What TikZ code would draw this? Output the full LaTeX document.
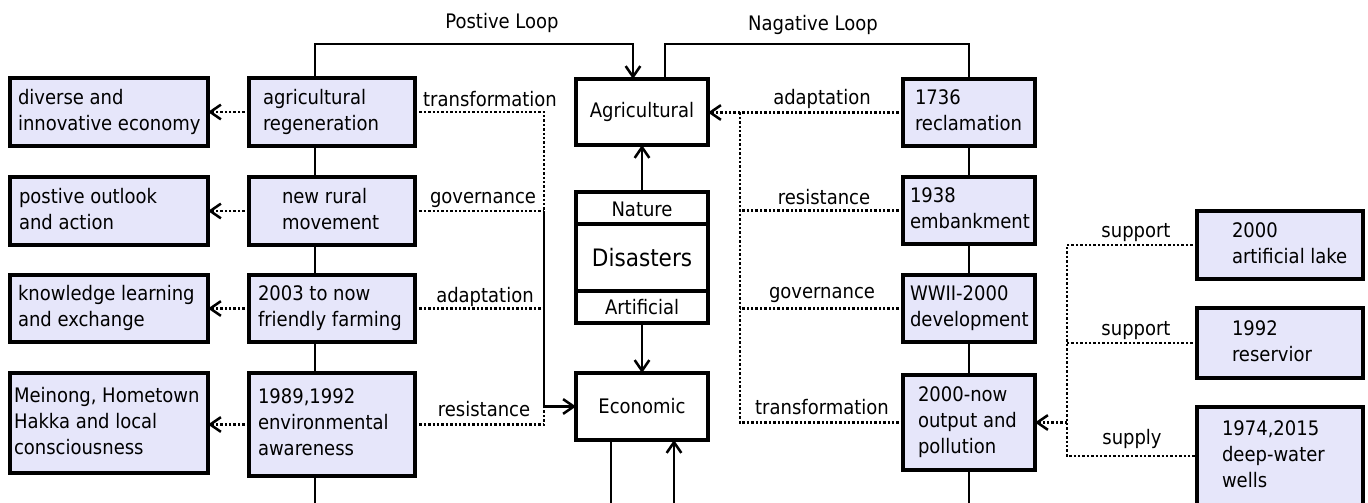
\documentclass[tikz,border=0pt]{standalone}
\usepackage{fontspec}
\setmainfont{DejaVu Sans Condensed}
\usetikzlibrary{arrows.meta,calc}
\definecolor{lav}{HTML}{E6E6FA}
\newlength\pxu
\setlength\pxu{0.75pt}
% box text: total width #1, left padding #2, lines #3 (all in px)
\newcommand\bxt[3]{\makebox[#1\pxu][l]{\hspace*{#2\pxu}\begin{tabular}{@{}l@{}}#3\end{tabular}}}
\tikzset{
  every node/.style={font=\fontsize{15}{19.5}\selectfont, inner sep=0pt, outer sep=0pt},
  evbox/.style={draw, line width=2.6pt, fill=lav, minimum height=#1\pxu},
  cbox/.style={draw, line width=2.6pt, fill=white, minimum width=132\pxu, minimum height=#1\pxu},
  link/.style={line width=1.9pt},
  dotlink/.style={line width=1.9pt, dash pattern=on 1.8pt off 1.5pt},
  tip/.style={-{Straight Barb[length=8pt,width=11pt,line width=1.9pt]}},
  lbl/.style={font=\fontsize{15}{19.5}\selectfont},
}
\begin{document}
\begin{tikzpicture}[x=0.75pt, y=-0.75pt]
\useasboundingbox (0,0) rectangle (1368,503);
\clip (0,0) rectangle (1368,503);

% junction coordinates
\coordinate (xL) at (315,0);
\coordinate (loopL) at (315,44);
\coordinate (loopR) at (969,44);
\coordinate (jl) at (544,0);
\coordinate (jr) at (740,0);
\coordinate (js) at (1067,0);
\coordinate (bot) at (0,503);

% left chain of events
\draw[link] (loopL) -- (315,503);
% right chain of events
\draw[link] (loopR) -- (969,503);

% outcome boxes
\node[evbox=68] (B1) at (109,112) {\bxt{198}{8}{diverse and\\innovative economy}};
\node[evbox=68] (B2) at (109,211) {\bxt{198}{9}{postive outlook\\and action}};
\node[evbox=67] (B3) at (109,308.5) {\bxt{198}{8}{knowledge learning\\and exchange}};
\node[evbox=100] (B4) at (109,423) {\bxt{198}{4}{Meinong, Hometown\\Hakka and local\\consciousness}};

% left events
\node[evbox=68] (L1) at (332,112) {\bxt{166}{14}{agricultural\\regeneration}};
\node[evbox=68] (L2) at (332,211) {\bxt{166}{33}{new rural\\movement}};
\node[evbox=67] (L3) at (332,308.5) {\bxt{166}{9}{2003 to now\\friendly farming}};
\node[evbox=103] (L4) at (332,424.5) {\bxt{166}{9}{1989,1992\\environmental\\awareness}};

% right events
\node[evbox=67] (R1) at (969,112.5) {\bxt{132}{12}{1736\\reclamation}};
\node[evbox=67] (R2) at (969,210.5) {\bxt{132}{7}{1938\\embankment}};
\node[evbox=67] (R3) at (969,308.5) {\bxt{132}{7}{WWII-2000\\development}};
\node[evbox=95] (R4) at (969,422.5) {\bxt{132}{15}{2000-now\\output and\\pollution}};

% water supply
\node[evbox=68] (S1) at (1280,245) {\bxt{166}{35}{2000\\artificial lake}};
\node[evbox=70] (S2) at (1280,343) {\bxt{166}{35}{1992\\reservior}};
\node[evbox=98] (S3) at (1280,456) {\bxt{166}{25}{1974,2015\\deep-water\\wells}};

% centre
\node[cbox=66] (Agri) at (642,112) {Agricultural};
\node[cbox=67] (Econ) at (642,406.5) {Economic};
\node[cbox=131] (Dis) at (642,257.5) {\fontsize{18}{22}\selectfont Disasters};
\draw[line width=2.6pt] (Dis.west |- 0,224) -- (Dis.east |- 0,224);
\draw[line width=2.6pt] (Dis.west |- 0,291) -- (Dis.east |- 0,291);
\node (nat) at (642,209) {Nature};
\node (art) at (642,307.5) {Artificial};

\draw[link,tip] (Dis.north) -- (Agri.south);
\draw[link,tip] (Dis.south) -- (Econ.north);
\draw[link] ($(Econ.south)+(-31,0)$) -- ($(Econ.south |- bot)+(-31,0)$);
\draw[link,tip] ($(Econ.south |- bot)+(32,0)$) -- ($(Econ.south)+(32,0)$);

% loops
\draw[link,tip] (L1.north -| xL) -- (loopL) -| ($(Agri.north)+(-9,0)$);
\draw[link] ($(Agri.north)+(23,0)$) |- (loopR) -- (R1.north);
\node[lbl] (pos) at (502,23) {Postive Loop};
\node[lbl] (neg) at (813,25) {Nagative Loop};

% left chain links
\foreach \a/\b in {L1/L2,L2/L3,L3/L4}
  \draw[link] (\a.south -| xL) -- (\b.north -| xL);
\draw[link] (L4.south -| xL) -- (xL |- bot);
\foreach \a/\b in {R1/R2,R2/R3,R3/R4}
  \draw[link] (\a.south) -- (\b.north);
\draw[link] (R4.south) -- (R4.south |- bot);

% outcomes
\foreach \a/\b in {L1/B1,L2/B2,L3/B3}
  \draw[dotlink,tip] (\a.west) -- (\b.east);
\draw[dotlink,tip] (L4.west) -- (B4.east |- L4.west);

% left strategies into the economy
\draw[dotlink] (L1.east) -- (L1.east -| jl) -- (jl |- L2.east);
\draw[dotlink] (L2.east) -- (L2.east -| jl);
\draw[dotlink] (L3.east) -- (L3.east -| jl);
\draw[link,tip] (L2.east -| jl) -- (Econ.west -| jl) -- (Econ.west);
\draw[dotlink] (L4.east) -- (L4.east -| jl) -- (Econ.west -| jl);
\node[lbl] (t1) at (490,99) {transformation};
\node[lbl] (t2) at (483,200) {governance};
\node[lbl] (t3) at (485,297) {adaptation};
\node[lbl] (t4) at (484,409) {resistance};

% right strategies into agriculture
\draw[dotlink,tip] (R1.west) -- (Agri.east |- R1.west);
\draw[dotlink] (R1.west -| jr) -- (R4.west -| jr) -- (R4.west);
\draw[dotlink] (R2.west) -- (R2.west -| jr);
\draw[dotlink] (R3.west) -- (R3.west -| jr);
\node[lbl] (u1) at (822,99) {adaptation};
\node[lbl] (u2) at (824,197) {resistance};
\node[lbl] (u3) at (822,295) {governance};
\node[lbl] (u4) at (822,407) {transformation};

% water supply into output
\draw[dotlink] (S1.west) -- (S1.west -| js) -- (S3.west -| js) -- (S3.west);
\draw[dotlink] (S2.west) -- (S2.west -| js);
\draw[dotlink,tip] (R4.east -| js) -- (R4.east);
\node[lbl] (v1) at (1136,233) {support};
\node[lbl] (v2) at (1136,331) {support};
\node[lbl] (v3) at (1132,439) {supply};
\end{tikzpicture}
\end{document}
